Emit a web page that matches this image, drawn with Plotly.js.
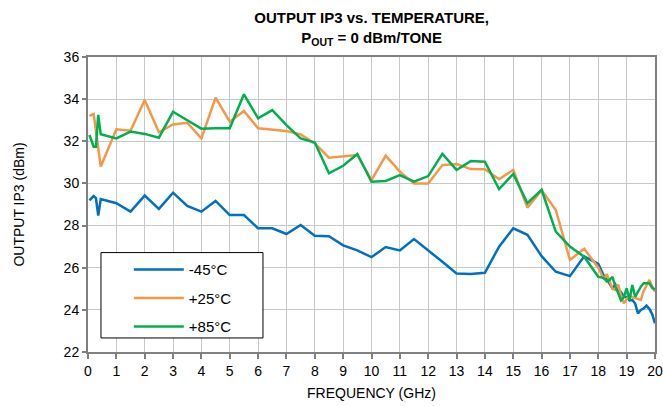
<!DOCTYPE html>
<html><head><meta charset="utf-8">
<script src="https://cdn.plot.ly/plotly-3.0.1.min.js"></script>
<style>html,body{margin:0;padding:0;background:#fff}#chart{width:663px;height:406px}</style>
</head><body><div id="chart"></div>
<script>
const freq = [0.05,0.2,0.28,0.36,0.45,1,1.5,2,2.5,3,3.5,4,4.5,5,5.5,6,6.5,7,7.5,8,8.5,9,9.5,10,10.5,11,11.5,12,12.5,13,13.5,14,14.5,15,15.5,16,16.5,17,17.5,
  18,18.1,18.2,18.3,18.4,18.5,18.6,18.7,18.8,18.9,19,19.1,19.2,19.3,19.4,19.5,19.6,19.7,19.8,19.9,20];
const m45 = [29.2,29.4,29.3,28.47,29.26,29.06,28.66,29.42,28.79,29.56,28.93,28.66,29.17,28.5,28.5,27.87,27.87,27.6,28.03,27.52,27.49,27.06,26.82,26.5,26.98,26.82,27.36,26.8,26.28,25.73,25.7,25.76,27.0,27.87,27.56,26.55,25.81,25.6,26.54,
  26.18,25.85,25.6,25.45,25.26,25.02,25.2,24.9,24.85,24.62,24.6,24.45,24.47,24.3,23.83,24.0,24.07,24.2,24.05,23.8,23.36];
const p25 = [33.21,33.29,32.5,31.7,30.8,32.57,32.5,33.96,32.43,32.8,32.88,32.14,34.07,32.93,33.44,32.62,32.54,32.49,32.33,31.9,31.22,31.27,31.35,30.16,31.32,30.56,30.0,30.0,30.87,30.92,30.68,30.67,30.2,30.64,28.85,29.68,28.74,26.37,26.9,
  26.0,25.75,25.45,25.7,25.3,25.0,24.95,25.2,24.7,24.31,24.5,24.7,24.6,24.55,24.5,24.47,24.9,25.2,25.42,25.1,24.86];
const p85 = [32.3,31.74,31.74,33.25,32.33,32.14,32.46,32.35,32.17,33.4,33.0,32.6,32.62,32.62,34.23,33.09,33.48,32.77,32.14,31.94,30.48,30.84,31.4,30.08,30.12,30.4,30.08,30.35,31.4,30.64,31.06,31.03,29.73,30.45,29.06,29.7,27.71,27.0,26.52,
  25.57,25.55,25.5,25.35,25.42,25.57,25.1,24.8,24.45,24.6,25.02,24.47,25.18,24.62,24.9,25.1,25.26,25.26,25.26,25.05,24.97];
const names = ['-45°C','+25°C','+85°C'];
const colors = ['#0070C0','#F79646','#00B050'];
const xTicks = Array.from({length:21},(_,i)=>i);
const yTicks = [22,24,26,28,30,32,34,36];

const series = [m45,p25,p85];
const data = series.map((s,i)=>({x:freq,y:s,type:'scatter',mode:'lines',name:names[i],
  legendgroup:'g'+i, line:{color:colors[i],width:2.5}}));

const font = {family:'Liberation Sans, Arial, sans-serif', color:'#000'};
const layout = {
  width:663,height:406,margin:{l:88,r:8,t:57,b:54},
  paper_bgcolor:'#fff',plot_bgcolor:'#fff',
  font:Object.assign({size:14},font),
  title:{text:'<b>OUTPUT IP3 vs. TEMPERATURE,</b><br><b>P<sub>OUT</sub> = 0 dBm/TONE</b>',
    x:0.5605,xanchor:'center',yref:'container',y:0.943,yanchor:'middle',font:Object.assign({size:15},font)},
  xaxis:{range:[0,20],tickvals:xTicks,ticktext:xTicks.map(String),showgrid:true,gridcolor:'#c8c8c8',gridwidth:1,
    showline:true,linecolor:'#808080',linewidth:2,mirror:true,ticks:'outside',ticklen:5,tickcolor:'#808080',tickwidth:2,
    zeroline:false,tickfont:Object.assign({size:14},font),
    title:{text:'FREQUENCY (GHz)',font:Object.assign({size:14},font),standoff:10}},
  yaxis:{range:[22,36],tickvals:yTicks,ticktext:yTicks.map(String),showgrid:true,gridcolor:'#c8c8c8',gridwidth:1,
    showline:true,linecolor:'#808080',linewidth:2,mirror:true,ticks:'outside',ticklen:4,tickcolor:'#808080',tickwidth:2,
    zeroline:false,tickfont:Object.assign({size:14},font),
    title:{text:'OUTPUT IP3 (dBm)',font:Object.assign({size:14},font),standoff:36}},
  showlegend:true,
  legend:{x:0.072,y:0.335,xanchor:'left',yanchor:'top',bgcolor:'rgba(0,0,0,0)',borderwidth:0,
    itemwidth:50,traceorder:'grouped',tracegroupgap:6,font:Object.assign({size:15},font)},
  shapes:[{type:'rect',xref:'paper',yref:'paper',x0:0.0229,x1:0.3086,y0:0.0476,y1:0.337,
    line:{color:'#000',width:1},fillcolor:'#fff',layer:'above'}]
};
Plotly.newPlot('chart',data,layout,{displayModeBar:false,staticPlot:true});
</script></body></html>
